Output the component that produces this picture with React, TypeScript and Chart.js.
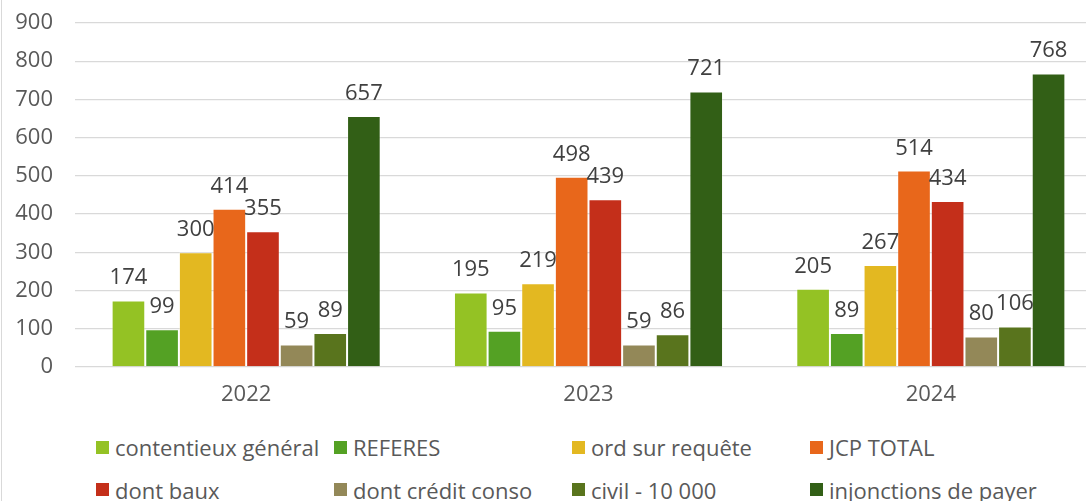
import React, { useEffect, useRef } from "react";
import { Chart, registerables } from "chart.js";

Chart.register(...registerables);

const categories = ["2022", "2023", "2024"];
const seriesNames = [
  "contentieux général",
  "REFERES",
  "ord sur requête",
  "JCP TOTAL",
  "dont baux",
  "dont crédit conso",
  "civil - 10 000",
  "injonctions de payer",
];
const contentieuxGeneral = [174, 195, 205];
const referes = [99, 95, 89];
const ordSurRequete = [300, 219, 267];
const jcpTotal = [414, 498, 514];
const dontBaux = [355, 439, 434];
const dontCreditConso = [59, 59, 80];
const civil10000 = [89, 86, 106];
const injonctionsDePayer = [657, 721, 768];
const seriesValues = [
  contentieuxGeneral,
  referes,
  ordSurRequete,
  jcpTotal,
  dontBaux,
  dontCreditConso,
  civil10000,
  injonctionsDePayer,
];
const seriesColors = [
  "#94C224",
  "#54A124",
  "#E3B821",
  "#E8671B",
  "#C42F1A",
  "#938858",
  "#59741D",
  "#325F16",
];
const yTicks = [0, 100, 200, 300, 400, 500, 600, 700, 800, 900];

const FONT = "'Open Sans', 'DejaVu Sans', sans-serif";

const dataLabelPlugin = {
  id: "dataLabels",
  afterDatasetsDraw(chart: any) {
    const ctx = chart.ctx;
    ctx.save();
    ctx.font = `22px ${FONT}`;
    ctx.fillStyle = "#404040";
    ctx.textAlign = "center";
    ctx.textBaseline = "alphabetic";
    chart.data.datasets.forEach((ds: any, i: number) => {
      const meta = chart.getDatasetMeta(i);
      meta.data.forEach((el: any, j: number) => {
        ctx.fillText(String(ds.data[j]), el.x, el.y - 16);
      });
    });
    ctx.restore();
  },
};

export default function App() {
  const canvasRef = useRef<HTMLCanvasElement | null>(null);

  useEffect(() => {
    if (!canvasRef.current) return;
    const chart = new Chart(canvasRef.current, {
      type: "bar",
      data: {
        labels: categories,
        datasets: seriesNames.map((name, i) => ({
          label: name,
          data: seriesValues[i],
          backgroundColor: seriesColors[i],
          borderColor: "rgba(255,255,255,0.3)",
          borderWidth: 1,
          barPercentage: 1,
          categoryPercentage: 0.786,
        })),
      },
      options: {
        animation: false,
        responsive: false,
        devicePixelRatio: 1,
        layout: { padding: { left: 0, right: 8, top: 23, bottom: 0 } },
        plugins: {
          legend: { display: false },
          tooltip: { enabled: false },
        },
        scales: {
          x: {
            grid: { display: false, drawTicks: false },
            border: { display: false },
            ticks: {
              color: "#595959",
              font: { family: FONT, size: 22 },
              padding: 15,
            },
            afterFit: (s: any) => {
              s.height = 53;
              s.paddingLeft = 0;
              s.paddingRight = 0;
            },
          },
          y: {
            min: 0,
            max: 900,
            afterBuildTicks: (s: any) => {
              s.ticks = yTicks.map((v) => ({ value: v }));
            },
            grid: { color: "#D9D9D9", lineWidth: 1.3, drawTicks: false },
            border: { display: false },
            ticks: {
              color: "#595959",
              font: { family: FONT, size: 22 },
              padding: 22,
            },
            afterFit: (s: any) => {
              s.width = 75;
              s.paddingTop = 0;
              s.paddingBottom = 0;
            },
          },
        },
      },
      plugins: [dataLabelPlugin],
    });
    return () => chart.destroy();
  }, []);

  return (
    <div
      style={{
        position: "fixed",
        left: 0,
        top: 0,
        width: 1086,
        height: 501,
        overflow: "hidden",
        background: "#fff",
        fontFamily: FONT,
      }}
    >
      <div
        style={{
          position: "absolute",
          left: 1,
          top: 0,
          width: 1,
          height: 501,
          background: "#D9D9D9",
        }}
      />
      <canvas
        ref={canvasRef}
        width={1110}
        height={420}
        style={{ position: "absolute", left: 0, top: 0, width: 1110, height: 420 }}
      />
      {seriesNames.map((name, i) => {
        const col = i % 4;
        const row = Math.floor(i / 4);
        return (
          <div
            key={name}
            style={{
              position: "absolute",
              left: 96 + col * 238,
              top: 434 + row * 42.5,
              height: 26,
              display: "flex",
              alignItems: "center",
              whiteSpace: "nowrap",
              fontSize: 22,
              lineHeight: "26px",
              color: "#595959",
            }}
          >
            <span
              style={{
                display: "inline-block",
                width: 13,
                height: 13,
                background: seriesColors[i],
                marginRight: 6,
              }}
            />
            <span>{name}</span>
          </div>
        );
      })}
    </div>
  );
}
